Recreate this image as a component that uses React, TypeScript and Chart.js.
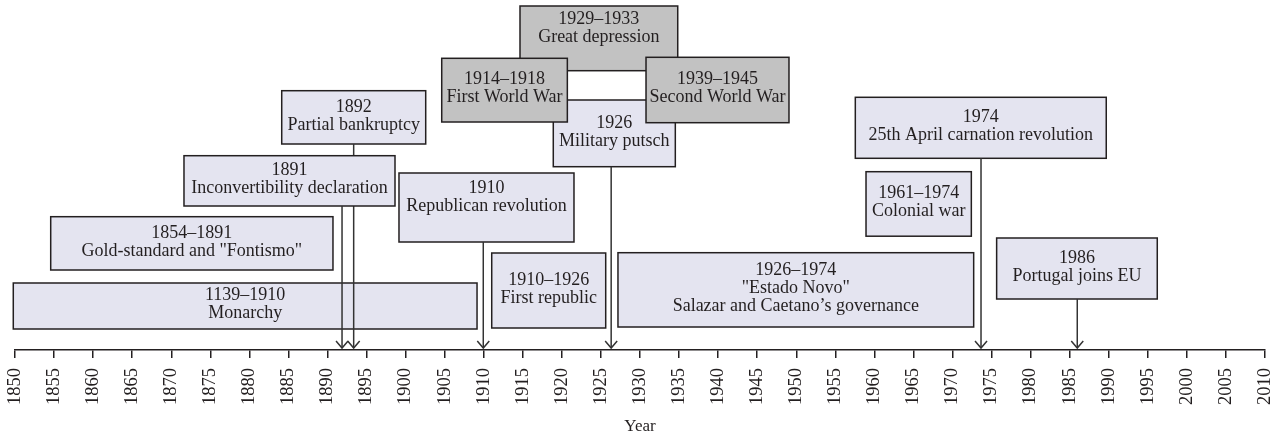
import React, { useEffect, useRef } from "react";
import { Chart, registerables } from "chart.js";

Chart.register(...registerables);

// ---- data ----
const tickYears = [
  1850, 1855, 1860, 1865, 1870, 1875, 1880, 1885, 1890, 1895, 1900, 1905, 1910,
  1915, 1920, 1925, 1930, 1935, 1940, 1945, 1950, 1955, 1960, 1965, 1970, 1975,
  1980, 1985, 1990, 1995, 2000, 2005, 2010,
];

const boxText: string[][] = [
  ["1139–1910", "Monarchy"],
  ["1854–1891", 'Gold-standard and "Fontismo"'],
  ["1892", "Partial bankruptcy"],
  ["1891", "Inconvertibility declaration"],
  ["1910", "Republican revolution", ""],
  ["1910–1926", "First republic"],
  ["1926–1974", '"Estado Novo"', "Salazar and Caetano’s governance"],
  ["1926", "Military putsch"],
  ["1929–1933", "Great depression", ""],
  ["1914–1918", "First World War"],
  ["1939–1945", "Second World War"],
  ["1974", "25th April carnation revolution"],
  ["1961–1974", "Colonial war"],
  ["1986", "Portugal joins EU"],
];

// horizontal extent of each box, in years
const boxStartYear = [
  1849.78, 1854.57, 1884.14, 1871.63, 1899.15, 1911.02, 1927.18, 1918.9, 1914.64,
  1904.62, 1930.77, 1957.56, 1958.93, 1975.65,
];
const boxEndYear = [
  1909.14, 1890.7, 1902.57, 1898.64, 1921.55, 1925.61, 1972.71, 1934.52, 1934.83,
  1920.7, 1949.07, 1989.68, 1972.41, 1996.21,
];
// vertical extent of each box, in levels above the time axis
const boxTopLevel = [67, 133.3, 259.3, 194.3, 177, 97, 97.3, 250, 344, 291.7, 292.7, 252.7, 178.3, 112];
const boxBottomLevel = [21, 80, 206, 144, 108, 22, 23, 183.3, 279.3, 228, 227.3, 191.7, 113.8, 51];

// "event" = Portuguese event, "world" = world event
const boxKind = [
  "event", "event", "event", "event", "event", "event", "event", "event",
  "world", "world", "world", "event", "event", "event",
];

// year the arrow points at (null = no arrow)
const arrowYear: (number | null)[] = [
  null, null, 1893.35, 1891.86, 1909.94, null, null, 1926.31, null, null, null,
  1973.65, null, 1985.97,
];

const SERIF = '"Liberation Serif", "Times New Roman", serif';
const INK = "#231F20";

const timelinePlugin = {
  id: "timelineBoxes",
  afterDatasetsDraw(chart: any) {
    const { ctx } = chart;
    const xs = chart.scales.x;
    const ys = chart.scales.y;
    ctx.save();
    for (let i = 0; i < boxText.length; i++) {
      const l = xs.getPixelForValue(boxStartYear[i]);
      const r = xs.getPixelForValue(boxEndYear[i]);
      const t = ys.getPixelForValue(boxTopLevel[i]);
      const b = ys.getPixelForValue(boxBottomLevel[i]);
      ctx.fillStyle = boxKind[i] === "world" ? "#C2C2C2" : "#E4E4F0";
      ctx.fillRect(l, t, r - l, b - t);
      ctx.lineWidth = 1.5;
      ctx.strokeStyle = INK;
      ctx.strokeRect(l, t, r - l, b - t);

      const lines = boxText[i];
      const lh = 18;
      const cy = (t + b) / 2 - 1.5;
      const y0 = cy - ((lines.length - 1) * lh) / 2;
      ctx.fillStyle = INK;
      ctx.font = `18px ${SERIF}`;
      ctx.textAlign = "center";
      ctx.textBaseline = "middle";
      lines.forEach((s, k) => {
        if (s) ctx.fillText(s, (l + r) / 2, y0 + k * lh);
      });

      const ay = arrowYear[i];
      if (ay !== null) {
        const ax = xs.getPixelForValue(ay);
        const tip = ys.getPixelForValue(0) - 2;
        ctx.strokeStyle = "#333333";
        ctx.lineWidth = 1.5;
        ctx.beginPath();
        ctx.moveTo(ax, b);
        ctx.lineTo(ax, tip);
        ctx.stroke();
        ctx.beginPath();
        ctx.moveTo(ax - 6, tip - 7);
        ctx.lineTo(ax, tip);
        ctx.lineTo(ax + 6, tip - 7);
        ctx.stroke();
      }
    }
    ctx.restore();
  },
};

export default function App() {
  const ref = useRef<HTMLCanvasElement>(null);

  useEffect(() => {
    if (!ref.current) return;
    const chart = new Chart(ref.current, {
      type: "scatter",
      data: { datasets: [] },
      options: {
        animation: false,
        responsive: true,
        maintainAspectRatio: false,
        layout: { padding: { left: 15, right: 10, top: 0, bottom: 0 } },
        plugins: { legend: { display: false }, tooltip: { enabled: false } },
        scales: {
          x: {
            type: "linear",
            min: 1850,
            max: 2010,
            afterBuildTicks: (scale: any) => {
              scale.ticks = tickYears.map((v) => ({ value: v }));
            },
            afterFit: (scale: any) => {
              scale.paddingLeft = 0;
              scale.paddingRight = 0;
              scale.height = 87;
            },
            ticks: {
              autoSkip: false,
              minRotation: 90,
              maxRotation: 90,
              padding: 10,
              color: INK,
              font: { family: SERIF, size: 18.5 },
              callback: (v: any) => String(v),
            },
            grid: {
              display: true,
              drawOnChartArea: false,
              drawTicks: true,
              tickLength: 8,
              color: INK,
              lineWidth: 1.5,
            },
            border: { display: true, color: INK, width: 1.5 },
            title: {
              display: true,
              text: "Year",
              color: INK,
              font: { family: SERIF, size: 17 },
              padding: { top: 2, bottom: 0 },
            },
          },
          y: { type: "linear", min: 0, max: 350, display: false },
        },
      },
      plugins: [timelinePlugin],
    });
    return () => chart.destroy();
  }, []);

  return (
    <div style={{ position: "fixed", left: 0, top: 0, width: 1275, height: 437, background: "#fff" }}>
      <canvas ref={ref} />
    </div>
  );
}
